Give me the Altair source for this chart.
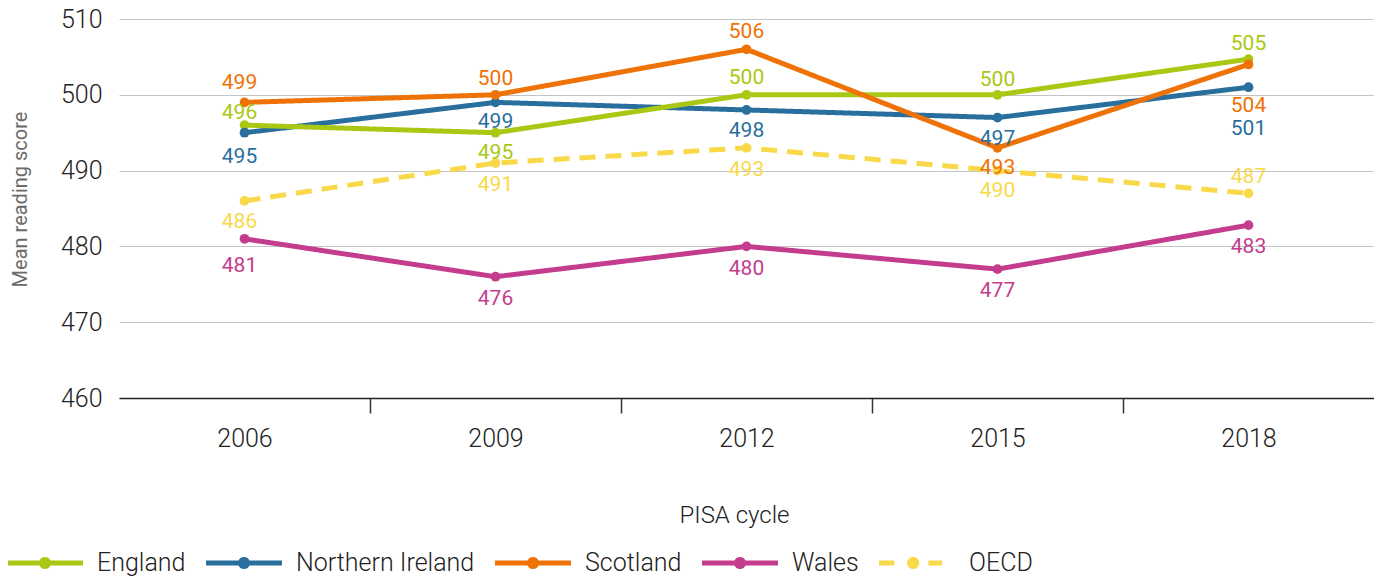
import math
import altair as alt
import pandas as pd

years = ["2006", "2009", "2012", "2015", "2018"]
series = ["England", "Northern Ireland", "Scotland", "Wales", "OECD"]
england = [496, 495, 500, 500, 504.7]
northern_ireland = [495, 499, 498, 497, 501]
scotland = [499, 500, 506, 493, 504]
wales = [481, 476, 480, 477, 482.8]
oecd = [486, 491, 493, 490, 487]
colors = ["#A9C814", "#286F9D", "#EE7205", "#C43C8D", "#F9D949"]
# stacking order of the lines (first is drawn at the bottom)
draw_order = ["Northern Ireland", "England", "Scotland", "Wales", "OECD"]

# vertical offset (px) of each value label's baseline from its point
england_label_dy = [-6, 26, -11, -9, -9]
northern_ireland_label_dy = [30, 26, 27, 27, 48]
scotland_label_dy = [-13, -10, -11, 26, 48]
wales_label_dy = [33, 28, 29, 28, 28]
oecd_label_dy = [27, 28, 28, 26, -10]
# horizontal offset (px) of the value labels per year
year_label_dx = [-5, 0, 0, 0, 0]

values = [england, northern_ireland, scotland, wales, oecd]
label_dys = [england_label_dy, northern_ireland_label_dy, scotland_label_dy,
             wales_label_dy, oecd_label_dy]
rows = []
for s, c, vals, dys in zip(series, colors, values, label_dys):
    for y, v, d, dx in zip(years, vals, dys, year_label_dx):
        rows.append({"Series": s, "Color": c, "Year": y, "Score": v, "Dy": d, "Dx": dx})
df = pd.DataFrame(rows)


def rect(x0, x1, h=0.066):
    return f"M{x0},{-h}L{x1},{-h}L{x1},{h}L{x0},{h}Z"


def dot(cx, r=0.16, n=20):
    pts = [(cx + r * math.cos(2 * math.pi * i / n), r * math.sin(2 * math.pi * i / n)) for i in range(n)]
    return "M" + "L".join(f"{x:.4f},{y:.4f}" for x, y in pts) + "Z"


solid_sym = rect(-1, 1) + dot(0)
dash_sym = rect(-1, -0.6) + rect(0.3, 0.66) + dot(-0.1)

x_enc = alt.X(
    "Year:O",
    title="PISA cycle",
    scale=alt.Scale(type="band", paddingInner=0, paddingOuter=0),
    axis=alt.Axis(
        labelAngle=0,
        tickBand="extent",
        tickSize=15,
        tickWidth=1.5,
        tickColor="#333333",
        tickOpacity={"condition": {"test": "datum.value == '2018' || datum.extra", "value": 0}, "value": 1},
        domainColor="#222222",
        domainWidth=1.6,
        labelFont="Roboto",
        labelFontWeight=300,
        labelFontSize=25,
        labelColor="#222222",
        labelBaseline="alphabetic",
        labelPadding=33,
        titleFont="Roboto",
        titleFontWeight=300,
        titleFontSize=24,
        titleColor="#222222",
        titleX=615,
        titleY=124,
        titleAlign="center",
        titleBaseline="alphabetic",
        grid=False,
    ),
)
y_enc = alt.Y(
    "Score:Q",
    title="Mean reading score",
    scale=alt.Scale(domain=[460, 510], zero=False, nice=False),
    axis=alt.Axis(
        values=[460, 470, 480, 490, 500, 510],
        ticks=False,
        domain=False,
        grid=True,
        gridColor="#c4c4c4",
        gridWidth=1.2,
        labelFont="Roboto",
        labelFontWeight=300,
        labelFontSize=25,
        labelColor="#222222",
        labelPadding=17,
        titleFont="Roboto",
        titleFontWeight=400,
        titleFontSize=20,
        titleColor="#6b6b6b",
        titleX=-99,
        titleY=180,
        titleAngle=270,
        titleAlign="center",
        titleBaseline="middle",
    ),
)

base = alt.Chart(df).encode(x=x_enc, y=y_enc)
color_id = alt.Color("Color:N", scale=None)

line_layers = []
for s in draw_order:
    dash = [16, 10] if s == "OECD" else [1, 0]
    line_layers.append(
        base.transform_filter(alt.datum.Series == s)
        .mark_line(strokeWidth=5, strokeDash=dash)
        .encode(color=color_id)
    )

points = base.mark_circle(size=95, opacity=1).encode(color=color_id)

labels = base.mark_text(
    baseline="alphabetic", align="center", font="Roboto", fontSize=21,
    dy=alt.ExprRef("datum.Dy"), dx=alt.ExprRef("datum.Dx"),
).encode(
    text=alt.Text("Score:Q", format=".0f"),
    color=color_id,
)

legend_cfg = dict(
    orient="none",
    legendX=-112,
    legendY=506,
    direction="horizontal",
    columns=5,
    symbolSize=5776,
    symbolOpacity=1,
    symbolStrokeWidth=0,
    labelFont="Roboto",
    labelFontWeight=300,
    labelFontSize=25,
    labelColor="#222222",
    labelOffset=14,
    labelLimit=400,
    columnPadding=20,
    padding=0,
    title=None,
)

legend_layer = base.transform_filter("false").mark_point(filled=True, opacity=1).encode(
    color=alt.Color(
        "Series:N",
        scale=alt.Scale(domain=series, range=colors),
        title=None,
        legend=alt.Legend(**legend_cfg),
    ),
    shape=alt.Shape(
        "Series:N",
        scale=alt.Scale(domain=series, range=[solid_sym, solid_sym, solid_sym, solid_sym, dash_sym]),
        title=None,
        legend=alt.Legend(**legend_cfg),
    ),
)

chart = alt.layer(*line_layers, points, labels, legend_layer).properties(
    width=1255,
    height=379,
    padding={"left": 111, "top": 11, "right": 0, "bottom": 181},
    autosize=alt.AutoSizeParams(type="none"),
).configure_view(stroke=None)

chart.save("out.html", embed_options={"renderer": "svg", "actions": False})
